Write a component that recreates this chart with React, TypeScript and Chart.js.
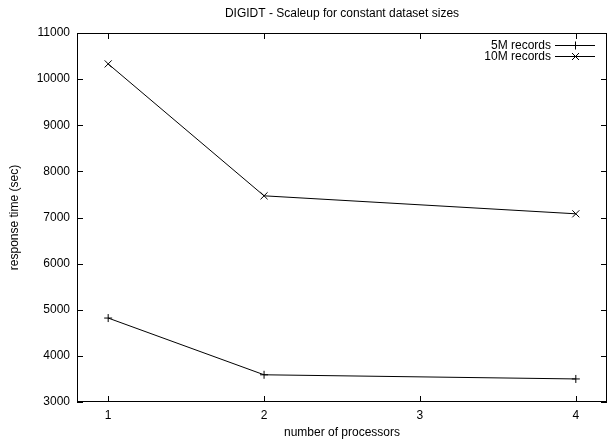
import React, { useEffect, useRef } from "react";
import { Chart, registerables } from "chart.js";

Chart.register(...registerables);

const chartTitle = "DIGIDT - Scaleup for constant dataset sizes";
const xAxisTitle = "number of processors";
const yAxisTitle = "response time (sec)";

const processors = [1, 2, 4];
const records5M = [4820, 3590, 3500];
const records10M = [10330, 7470, 7080];

const seriesLabels = ["5M records", "10M records"];
const seriesMarkers = ["cross", "crossRot"];

const xTicks = [1, 2, 3, 4];
const yTicks = [3000, 4000, 5000, 6000, 7000, 8000, 9000, 10000, 11000];

const FONT = "'Liberation Sans', Arial, Helvetica, sans-serif";
const TICK = 6;

function drawMarker(ctx: CanvasRenderingContext2D, style: string, x: number, y: number) {
  ctx.beginPath();
  if (style === "cross") {
    ctx.moveTo(x - 4, y);
    ctx.lineTo(x + 4, y);
    ctx.moveTo(x, y - 4);
    ctx.lineTo(x, y + 4);
  } else {
    ctx.moveTo(x - 3.5, y - 3.5);
    ctx.lineTo(x + 3.5, y + 3.5);
    ctx.moveTo(x - 3.5, y + 3.5);
    ctx.lineTo(x + 3.5, y - 3.5);
  }
  ctx.stroke();
}

const framePlugin = {
  id: "gnuplotFrame",
  afterDatasetsDraw(chart: any) {
    const { ctx, chartArea, scales } = chart;
    const { left, right, top, bottom } = chartArea;
    ctx.save();
    ctx.strokeStyle = "#000";
    ctx.lineWidth = 1;
    // border box
    ctx.strokeRect(Math.round(left) + 0.5, Math.round(top) + 0.5, Math.round(right - left) - 1, Math.round(bottom - top) - 1);
    // inward ticks
    ctx.beginPath();
    for (const v of xTicks) {
      const x = Math.round(scales.x.getPixelForValue(v)) + 0.5;
      ctx.moveTo(x, bottom);
      ctx.lineTo(x, bottom - TICK);
      ctx.moveTo(x, top);
      ctx.lineTo(x, top + TICK);
    }
    for (const v of yTicks) {
      const y = Math.round(scales.y.getPixelForValue(v)) + 0.5;
      ctx.moveTo(left, y);
      ctx.lineTo(left + TICK, y);
      ctx.moveTo(right, y);
      ctx.lineTo(right - TICK, y);
    }
    ctx.stroke();

    // legend (gnuplot style, top right inside)
    ctx.font = `12px ${FONT}`;
    ctx.fillStyle = "#000";
    ctx.textAlign = "right";
    ctx.textBaseline = "middle";
    chart.data.datasets.forEach((ds: any, i: number) => {
      const y = Math.round(top + 12 + i * 11) + 0.5;
      ctx.fillText(ds.label, right - 56, y);
      ctx.beginPath();
      ctx.moveTo(right - 52, y);
      ctx.lineTo(right - 12, y);
      ctx.stroke();
      drawMarker(ctx, seriesMarkers[i], right - 31.5, y);
    });
    ctx.restore();
  },
};

export default function App() {
  const canvasRef = useRef<HTMLCanvasElement | null>(null);

  useEffect(() => {
    if (!canvasRef.current) return;
    Chart.defaults.font.family = FONT;
    Chart.defaults.font.size = 12;
    Chart.defaults.color = "#000";

    const mk = (vals: number[]) => processors.map((p, i) => ({ x: p, y: vals[i] }));

    const chart = new Chart(canvasRef.current, {
      type: "line",
      data: {
        datasets: [
          {
            label: seriesLabels[0],
            data: mk(records5M),
            borderColor: "#000",
            backgroundColor: "#000",
            borderWidth: 1,
            pointStyle: "cross",
            pointRadius: 4,
            pointBorderWidth: 1,
            pointBorderColor: "#000",
            tension: 0,
          },
          {
            label: seriesLabels[1],
            data: mk(records10M),
            borderColor: "#000",
            backgroundColor: "#000",
            borderWidth: 1,
            pointStyle: "crossRot",
            pointRadius: 5,
            pointBorderWidth: 1,
            pointBorderColor: "#000",
            tension: 0,
          },
        ],
      },
      options: {
        responsive: false,
        animation: false,
        layout: { padding: { left: 0, right: 2, top: 0, bottom: 0 } },
        plugins: {
          legend: { display: false },
          tooltip: { enabled: false },
          title: {
            display: true,
            fullSize: false,
            text: chartTitle,
            color: "#000",
            font: { family: FONT, size: 12, weight: "normal" },
            padding: { top: 6, bottom: 12.6 },
          },
        },
        scales: {
          x: {
            type: "linear",
            min: 0.8,
            max: 4.2,
            afterBuildTicks: (axis: any) => {
              axis.ticks = xTicks.map((v) => ({ value: v }));
            },
            afterFit: (scale: any) => {
              scale.height = 45;
            },
            grid: { display: false, drawTicks: false },
            border: { display: false },
            ticks: {
              font: { family: FONT, size: 12 },
              color: "#000",
              padding: 6,
              maxRotation: 0,
              callback: (v: any) => String(v),
            },
            title: {
              display: true,
              text: xAxisTitle,
              color: "#000",
              font: { family: FONT, size: 12 },
              padding: { top: 0, bottom: 6.8 },
            },
          },
          y: {
            type: "linear",
            min: 3000,
            max: 11000,
            afterBuildTicks: (axis: any) => {
              axis.ticks = yTicks.map((v) => ({ value: v }));
            },
            afterFit: (scale: any) => {
              scale.width = 77;
            },
            grid: { display: false, drawTicks: false },
            border: { display: false },
            ticks: {
              font: { family: FONT, size: 12 },
              color: "#000",
              padding: 7,
              callback: (v: any) => String(v),
            },
            title: {
              display: true,
              text: yAxisTitle,
              color: "#000",
              font: { family: FONT, size: 12 },
              padding: { top: 7.8, bottom: 0 },
            },
          },
        },
      },
      plugins: [framePlugin],
    } as any);

    return () => chart.destroy();
  }, []);

  return (
    <div style={{ position: "fixed", left: 0, top: 0, width: 613, height: 447, background: "#fff" }}>
      <canvas ref={canvasRef} width={613} height={447} style={{ display: "block" }} />
    </div>
  );
}
